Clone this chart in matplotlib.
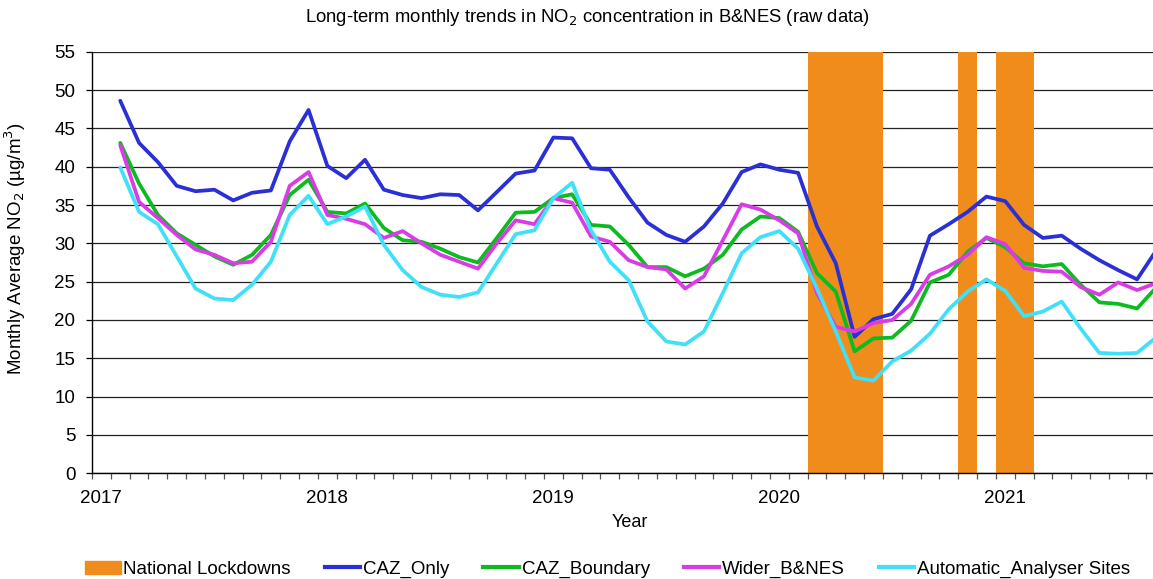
import matplotlib.pyplot as plt
from matplotlib.patches import Patch
from matplotlib.lines import Line2D

plt.rcParams['font.family'] = ['Liberation Sans', 'DejaVu Sans']

# monthly means, Feb 2017 .. Sep 2021
first_month = "2017-02"
caz_only = [48.6, 43.1, 40.6, 37.5, 36.8, 37.0, 35.6, 36.6, 36.9, 43.3, 47.4,
            40.1, 38.5, 40.9, 37.0, 36.3, 35.9, 36.4, 36.3, 34.3, 36.7, 39.1, 39.5,
            43.8, 43.7, 39.8, 39.6, 36.0, 32.7, 31.1, 30.2, 32.2, 35.2, 39.3, 40.3,
            39.6, 39.2, 32.2, 27.4, 17.8, 20.1, 20.8, 24.0, 31.0, 32.5, 34.1, 36.1,
            35.5, 32.4, 30.7, 31.0, 29.3, 27.8, 26.5, 25.3, 29.0]
caz_boundary = [43.1, 37.8, 33.7, 31.3, 29.8, 28.3, 27.2, 28.5, 31.1, 36.3, 38.3,
                34.1, 33.9, 35.2, 32.0, 30.4, 30.2, 29.3, 28.2, 27.5, 30.7, 34.0, 34.1,
                35.9, 36.4, 32.4, 32.2, 29.8, 26.9, 26.9, 25.7, 26.7, 28.5, 31.8, 33.5,
                33.3, 31.5, 26.1, 23.7, 15.9, 17.6, 17.7, 19.9, 24.9, 25.9, 28.9, 30.7,
                29.5, 27.4, 27.0, 27.3, 24.6, 22.3, 22.1, 21.5, 24.2]
wider_bnes = [42.8, 35.4, 33.3, 31.1, 29.2, 28.5, 27.4, 27.6, 30.2, 37.5, 39.3,
              33.7, 33.2, 32.5, 30.7, 31.6, 30.0, 28.5, 27.6, 26.7, 30.0, 33.0, 32.5,
              35.9, 35.3, 30.9, 30.2, 27.8, 26.9, 26.6, 24.1, 25.7, 30.4, 35.1, 34.4,
              33.0, 31.3, 23.5, 19.1, 18.5, 19.6, 20.0, 22.1, 25.9, 27.0, 28.5, 30.8,
              29.9, 26.8, 26.4, 26.3, 24.3, 23.3, 24.9, 23.9, 24.8]
analysers = [39.9, 34.1, 32.5, 28.3, 24.1, 22.8, 22.6, 24.6, 27.6, 33.7, 36.2,
             32.5, 33.5, 34.8, 29.8, 26.5, 24.3, 23.3, 23.0, 23.6, 27.4, 31.2, 31.7,
             35.9, 37.9, 31.7, 27.6, 25.2, 19.8, 17.2, 16.8, 18.5, 23.5, 28.7, 30.8,
             31.6, 29.3, 24.1, 18.5, 12.5, 12.1, 14.6, 16.0, 18.2, 21.4, 23.7, 25.3,
             23.8, 20.5, 21.1, 22.4, 18.9, 15.7, 15.6, 15.7, 17.7]

series_names = ["CAZ_Only", "CAZ_Boundary", "Wider_B&NES", "Automatic_Analyser Sites"]
series_colors = ["#2B2FD6", "#0DBA1F", "#D93CE6", "#40E0F8"]

# lockdown months (inclusive)
lockdown_start = ["2020-03", "2020-11", "2021-01"]
lockdown_end = ["2020-06", "2020-11", "2021-02"]

years = [2017, 2018, 2019, 2020, 2021]


def month_index(s):
    y, m = s.split("-")
    return (int(y) - 2017) * 12 + int(m) - 1


fig = plt.figure(figsize=(11.53, 5.79), dpi=100)
ax = fig.add_axes([92 / 1153, 1 - 473.3 / 579, 1 - 92 / 1153, 421.6 / 579])

start = month_index(first_month)
x = [start + k + 0.5 for k in range(len(caz_only))]

for s, e in zip(lockdown_start, lockdown_end):
    ax.axvspan(month_index(s), month_index(e) + 1, color="#F08C1C", lw=0, zorder=2)

for vals, name, c in zip([caz_only, caz_boundary, wider_bnes, analysers],
                         series_names, series_colors):
    ax.plot(x, vals, color=c, lw=2.7, label=name, zorder=3,
            solid_joinstyle='round', solid_capstyle='round')

ax.set_xlim(0, (1153 - 92) / 18.83)
ax.set_ylim(0, 55)
ax.set_yticks(range(0, 56, 5))
ax.yaxis.grid(True, color="#222222", lw=0.9, zorder=1)
ax.set_axisbelow(True)

n_months = int(ax.get_xlim()[1]) + 1
ax.set_xticks(range(n_months))
ax.set_xticklabels([])
ax.set_xticks([(y - 2017) * 12 + 0.5 for y in years], [str(y) for y in years], minor=True)
ax.tick_params(axis='x', which='major', direction='out', length=4, width=0.9, color="#555555")
ax.tick_params(axis='x', which='minor', length=0, pad=12, labelsize=13.5)
ax.tick_params(axis='y', direction='out', length=4, width=0.9, pad=8, labelsize=13.5)

for sp in ["top", "right"]:
    ax.spines[sp].set_visible(False)
for sp in ["left", "bottom"]:
    ax.spines[sp].set_linewidth(1.0)

ax.set_xlabel("Year", fontsize=13)
ax.xaxis.set_label_coords(0.507, -0.0965)
ax.set_ylabel("Monthly Average NO$_2$ (µg/m$^3$)", fontsize=13.5)
ax.yaxis.set_label_coords(-0.060, 0.532)

fig.text(0.5096, 1 - 18 / 579, "Long-term monthly trends in NO$_2$ concentration in B&NES (raw data)",
         ha="center", va="center", fontsize=13.3)

handles = [Patch(color="#F08C1C", label="National Lockdowns")]
handles += [Line2D([], [], color=c, lw=3, label=n) for n, c in zip(series_names, series_colors)]
fig.legend(handles=handles, loc="center", bbox_to_anchor=(0.527, 0.017), ncol=5,
           frameon=False, fontsize=13.5, handlelength=1.9, handletextpad=0.15,
           columnspacing=1.8, borderaxespad=0)

fig.savefig("out.png", dpi=100)
